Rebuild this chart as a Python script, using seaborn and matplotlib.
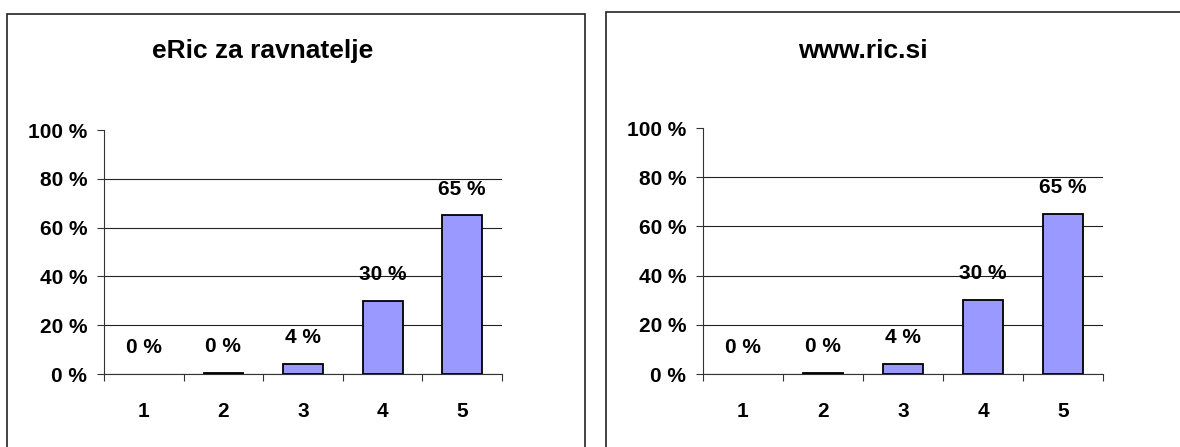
import numpy as np
import matplotlib
matplotlib.use("Agg")
import matplotlib.pyplot as plt
from matplotlib.patches import Rectangle
import seaborn as sns

categories = ["1", "2", "3", "4", "5"]
titles = ["eRic za ravnatelje", "www.ric.si"]
values_eric = [0, 0.6, 4, 30, 65]
values_ric = [0, 0.6, 4, 30, 65]
labels_eric = ["0 %", "0 %", "4 %", "30 %", "65 %"]
labels_ric = ["0 %", "0 %", "4 %", "30 %", "65 %"]
yticks = [0, 20, 40, 60, 80, 100]
ytick_labels = ["0 %", "20 %", "40 %", "60 %", "80 %", "100 %"]

sns.set_style("white")
plt.rcParams["font.family"] = ["Liberation Sans", "DejaVu Sans"]
plt.rcParams["font.weight"] = "bold"
plt.rcParams["text.color"] = "black"
plt.rcParams["xtick.color"] = "black"
plt.rcParams["ytick.color"] = "black"
plt.rcParams["xtick.labelcolor"] = "black"
plt.rcParams["ytick.labelcolor"] = "black"

W, H = 1180, 447
fig = plt.figure(figsize=(W / 100, H / 100), dpi=100)

def px_axes(x0, x1, ytop, ybot):
    return fig.add_axes([x0 / W, (H - ybot) / H, (x1 - x0) / W, (ybot - ytop) / H])

# panel borders
fig.patches.append(Rectangle((7 / W, -0.05), (585 - 7) / W, (H - 14) / H + 0.05,
                             transform=fig.transFigure, fill=False,
                             edgecolor="#222222", lw=1.2, zorder=0))
fig.patches.append(Rectangle((606 / W, -0.05), 0.6, (H - 12) / H + 0.05,
                             transform=fig.transFigure, fill=False,
                             edgecolor="#222222", lw=1.2, zorder=0))

panels = [
    (px_axes(104, 502, 130, 374), values_eric, labels_eric, titles[0], 263),
    (px_axes(703, 1103, 128, 374), values_ric, labels_ric, titles[1], 863),
]

for ax, vals, labs, title, tx in panels:
    sns.barplot(x=categories, y=vals, color="#9999FF", edgecolor="black",
                linewidth=1.3, width=0.5, saturation=1, ax=ax, zorder=3)
    for p in ax.patches:
        if p.get_height() == 0:
            p.set_visible(False)
    ax.set_xlim(-0.5, 4.5)
    ax.set_ylim(0, 100)
    ax.set_yticks(yticks)
    ax.set_yticklabels(ytick_labels, fontsize=15, fontweight="bold")
    ax.set_xticks(range(len(categories)))
    ax.set_xticklabels(categories, fontsize=15, fontweight="bold")
    ax.set_xticks(np.arange(-0.5, len(categories), 1), minor=True)
    ax.tick_params(axis="x", which="major", length=0, pad=20)
    ax.tick_params(axis="x", which="minor", length=5, width=0.8,
                   direction="out", color="#333333", bottom=True)
    ax.tick_params(axis="y", length=5, width=0.8, direction="out",
                   color="#333333", pad=7, left=True)
    ax.set_xlabel("")
    ax.set_ylabel("")
    for s in ["top", "right"]:
        ax.spines[s].set_visible(False)
    for s in ["left", "bottom"]:
        ax.spines[s].set_color("#333333")
        ax.spines[s].set_linewidth(0.8)
    ax.yaxis.grid(True, color="#222222", lw=0.8, zorder=0)
    ax.set_axisbelow(True)
    gl = ax.get_ygridlines()
    gl[-1].set_visible(False)
    for i, (v, lab) in enumerate(zip(vals, labs)):
        ax.annotate(lab, (i, v), xytext=(0, 19), textcoords="offset points",
                    ha="center", va="center", fontsize=15, fontweight="bold",
                    color="black")
    fig.text(tx / W, (H - 51) / H, title, ha="center", va="center",
             fontsize=19, fontweight="bold", color="black")

fig.savefig("out.png", dpi=100, facecolor="white")
